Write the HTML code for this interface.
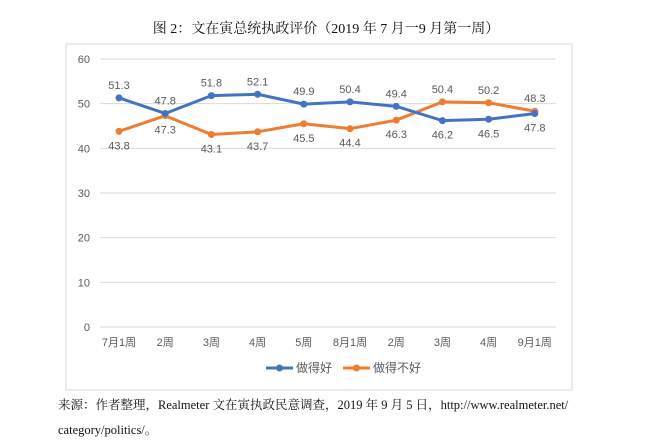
<!DOCTYPE html>
<html><head><meta charset="utf-8"><style>
body{margin:0;background:#fff;width:648px;height:448px;overflow:hidden;font-family:"Liberation Serif","Noto Serif CJK SC",serif;}
</style></head><body>
<svg width="648" height="448" style="position:absolute;left:0;top:0">
<text x="326" y="33" text-anchor="middle" font-size="14" fill="#111" font-family="'Liberation Serif','Noto Serif CJK SC',serif">图 2：文在寅总统执政评价（2019 年 7 月一9 月第一周）</text>
<rect x="66" y="44" width="506" height="346" fill="none" stroke="#d9d9d9"/>
<g id="grid"></g><g id="series"></g>
<g font-family="'Liberation Sans','Noto Sans CJK SC',sans-serif" font-size="12" fill="#595959">
<line x1="266" y1="368" x2="293" y2="368" stroke="#4472c4" stroke-width="3"/><circle cx="279.5" cy="368" r="3.5" fill="#4472c4"/>
<text x="296" y="372">做得好</text>
<line x1="343" y1="368" x2="370" y2="368" stroke="#ed7d31" stroke-width="3"/><circle cx="356.5" cy="368" r="3.5" fill="#ed7d31"/>
<text x="373" y="372">做得不好</text>
</g>
<text x="58" y="409" font-size="12.5" fill="#111">来源：作者整理，Realmeter 文在寅执政民意调查，2019 年 9 月 5 日，http://www.realmeter.net/</text>
<text x="58" y="434" font-size="12.5" fill="#111">category/politics/。</text>
</svg>
<script>
const categories=["7月1周","2周","3周","4周","5周","8月1周","2周","3周","4周","9月1周"];
const good=[51.3,47.8,51.8,52.1,49.9,50.4,49.4,46.2,46.5,47.8];
const bad=[43.8,47.3,43.1,43.7,45.5,44.4,46.3,50.4,50.2,48.3];
const ticks=[0,10,20,30,40,50,60];
const NS="http://www.w3.org/2000/svg";
const X=i=>119+i*46.2, Y=v=>327-v*4.467;
function mk(t,a,p){const e=document.createElementNS(NS,t);for(const k in a)e.setAttribute(k,a[k]);p.appendChild(e);return e;}
const g=document.getElementById('grid'),s=document.getElementById('series');
const F="'Liberation Sans','Noto Sans CJK SC',sans-serif";
ticks.forEach(t=>{
 const l=mk('line',{x1:100,x2:556,y1:Y(t),y2:Y(t),stroke:'#d9d9d9'},g);
 
 
 const tx=mk('text',{x:90,y:Y(t)+4,'text-anchor':'end','font-size':11,fill:'#595959','font-family':F},g);tx.textContent=t;
 
 
});
categories.forEach((c,i)=>{
 const tx=mk('text',{x:X(i),y:346,'text-anchor':'middle','font-size':11,fill:'#595959','font-family':F},g);tx.textContent=c;
 
 
});
function draw(data,color,name,other){
 const p=mk('polyline',{points:data.map((v,i)=>X(i)+','+Y(v)).join(' '),fill:'none',stroke:color,'stroke-width':3,'stroke-linejoin':'round'},s);
 
 
 data.forEach((v,i)=>{
  const c=mk('circle',{cx:X(i),cy:Y(v),r:3.5,fill:color},s);
  
  
  const above=v>=other[i];
  const t=mk('text',{x:X(i),y:above?Y(v)-9:Y(v)+18,'text-anchor':'middle','font-size':11,fill:'#595959','font-family':F},s);t.textContent=v.toFixed(1);
  
  
 });
}
draw(bad,'#ed7d31','bad',good);
draw(good,'#4472c4','good',bad);
</script>
</body></html>
